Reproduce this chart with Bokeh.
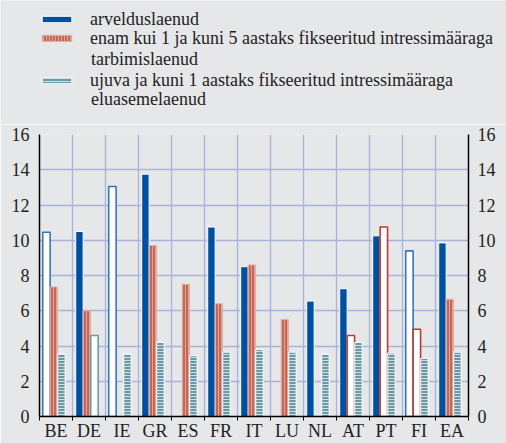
from bokeh.plotting import figure
from bokeh.layouts import column
from bokeh.models import (LinearAxis, FixedTicker, Legend, LegendItem, Label,
                          ColumnDataSource, Range1d)
from bokeh.transform import dodge
from bokeh.embed import file_html
from bokeh.resources import INLINE

# ---------------- data ----------------
countries = ["BE", "DE", "IE", "GR", "ES", "FR", "IT", "LU", "NL", "AT", "PT", "FI", "EA"]
overdraft = [10.45, 10.5, 13.05, 13.75, None, 10.75, 8.5, None, 6.55, 7.25, 10.25, 9.4, 9.85]
consumer = [7.35, 6.0, None, 9.7, 7.5, 6.4, 8.6, 5.5, None, 4.6, 10.75, 4.95, 6.65]
housing = [3.55, 4.6, 3.55, 4.2, 3.45, 3.65, 3.8, 3.65, 3.55, 4.2, 3.6, 3.3, 3.65]
overdraft_hollow = ["BE", "IE", "FI"]
consumer_hollow = ["AT", "PT", "FI"]
housing_hollow = ["DE"]
series_labels = [
    ["arvelduslaenud"],
    ["enam kui 1 ja kuni 5 aastaks fikseeritud intressimääraga", "tarbimislaenud"],
    ["ujuva ja kuni 1 aastaks fikseeritud intressimääraga", "eluasemelaenud"],
]
y_ticks = [0, 2, 4, 6, 8, 10, 12, 14, 16]

FONT = "Liberation Serif"
BG = "#e6e7e9"
GRID = "#a9b3dc"
TXT = "#222222"
W_FIG = 506
H_LEG = 124
H_MAIN = 319


def split(values, hollow):
    solid = {"x": [], "top": []}
    hol = {"x": [], "top": []}
    for i, (c, v) in enumerate(zip(countries, values)):
        if v is None:
            continue
        d = hol if c in hollow else solid
        d["x"].append(i)
        d["top"].append(v)
    return ColumnDataSource(solid), ColumnDataSource(hol)


def base_style(fig):
    fig.background_fill_color = BG
    fig.border_fill_color = BG
    fig.outline_line_color = None
    fig.frame_align = False


# ---------------- main chart ----------------
p = figure(width=W_FIG, height=H_MAIN, x_range=Range1d(0, len(countries)), y_range=Range1d(0, 16),
           output_backend="svg", toolbar_location=None,
           min_border_top=10, min_border_bottom=23, min_border_left=39, min_border_right=38)
base_style(p)

p.xgrid.ticker = FixedTicker(ticks=list(range(len(countries) + 1)))
p.ygrid.ticker = FixedTicker(ticks=y_ticks)
for g in (p.xgrid, p.ygrid):
    g.grid_line_color = GRID
    g.grid_line_width = 1.3

W = 0.225
series = [
    (overdraft, overdraft_hollow, 0.21,
     dict(fill_color="#0050a0", line_color="white", line_width=1),
     dict(fill_color="white", line_color="#3576bd", line_width=1.6)),
    (consumer, consumer_hollow, 0.435,
     dict(fill_color="#c2685b", hatch_pattern="vertical_line", hatch_color="#e2a596",
          hatch_scale=3, hatch_weight=1, line_color="#e6b0a4", line_width=1),
     dict(fill_color="white", line_color="#c0392f", line_width=1.6)),
    (housing, housing_hollow, 0.665,
     dict(fill_color="#6b98a5", hatch_pattern="horizontal_line", hatch_color="#cfe0e4",
          hatch_scale=3, hatch_weight=1, line_color="white", line_width=1),
     dict(fill_color="white", line_color="#6a9ca8", line_width=1.6)),
]

solid_sources = []
for vals, hol, off, solid_style, hollow_style in series:
    s_src, h_src = split(vals, hol)
    p.vbar(x=dodge("x", off), top="top", width=W, bottom=0, source=s_src, **solid_style)
    p.vbar(x=dodge("x", off), top="top", width=W, bottom=0, source=h_src, **hollow_style)
    solid_sources.append(s_src)

p.xaxis.ticker = FixedTicker(ticks=[i + 0.5 for i in range(len(countries))],
                             minor_ticks=list(range(len(countries) + 1)))
p.xaxis.major_label_overrides = {i + 0.5: c for i, c in enumerate(countries)}
p.xaxis.major_tick_out = 0
p.xaxis.major_tick_in = 0
p.xaxis.minor_tick_out = 4
p.xaxis.minor_tick_in = 0
p.xaxis.minor_tick_line_color = "black"
p.xaxis.major_label_standoff = 0
p.xaxis.major_label_text_line_height = 0.8

p.yaxis.ticker = FixedTicker(ticks=y_ticks)
raxis = LinearAxis(ticker=FixedTicker(ticks=y_ticks))
p.add_layout(raxis, "right")

for ax in (p.xaxis[0], p.yaxis[0], raxis):
    ax.axis_line_color = "black"
    ax.axis_line_width = 1.5
    ax.major_label_text_font = FONT
    ax.major_label_text_font_size = "18px"
    ax.major_label_text_color = TXT
for ax in (p.yaxis[0], raxis):
    ax.major_tick_out = 0
    ax.major_tick_in = 0
    ax.minor_tick_out = 0
    ax.minor_tick_in = 0
p.yaxis.major_label_standoff = 10
raxis.major_label_standoff = 9

# ---------------- legend panel ----------------
lg = figure(width=W_FIG, height=H_LEG, x_range=Range1d(0, W_FIG), y_range=Range1d(0, H_LEG),
            output_backend="svg", toolbar_location=None,
            x_axis_location=None, y_axis_location=None,
            min_border=0, min_border_left=0, min_border_right=0,
            min_border_top=0, min_border_bottom=0)
base_style(lg)
lg.xgrid.visible = False
lg.ygrid.visible = False

legend_y = [94.5, 75.5, 33.5]      # bottom of each legend row, px from panel bottom
second_line_y = [None, 66, 26]     # centre of wrapped second line
for (vals, hol, off, solid_style, hollow_style), src, labels, ly, sy in zip(
        series, solid_sources, series_labels, legend_y, second_line_y):
    r = lg.vbar(x=dodge("x", off), top="top", width=W, bottom=0, source=src,
                visible=False, **solid_style)
    leg = Legend(items=[LegendItem(label=labels[0], renderers=[r])],
                 location=(38, ly), orientation="vertical",
                 glyph_width=37, glyph_height=8, label_standoff=15,
                 padding=0, margin=0, spacing=0,
                 inactive_fill_alpha=0,
                 label_text_font=FONT, label_text_font_size="18px", label_text_color=TXT,
                 background_fill_alpha=0, border_line_alpha=0)
    lg.add_layout(leg)
    if sy is not None:
        lg.add_layout(Label(x=90.5, y=sy, text=labels[1], text_font=FONT, text_font_size="18px",
                            text_color=TXT, text_baseline="middle", text_align="left"))

layout = column(lg, p, spacing=0)
open("out.html", "w").write(file_html(layout, INLINE))
